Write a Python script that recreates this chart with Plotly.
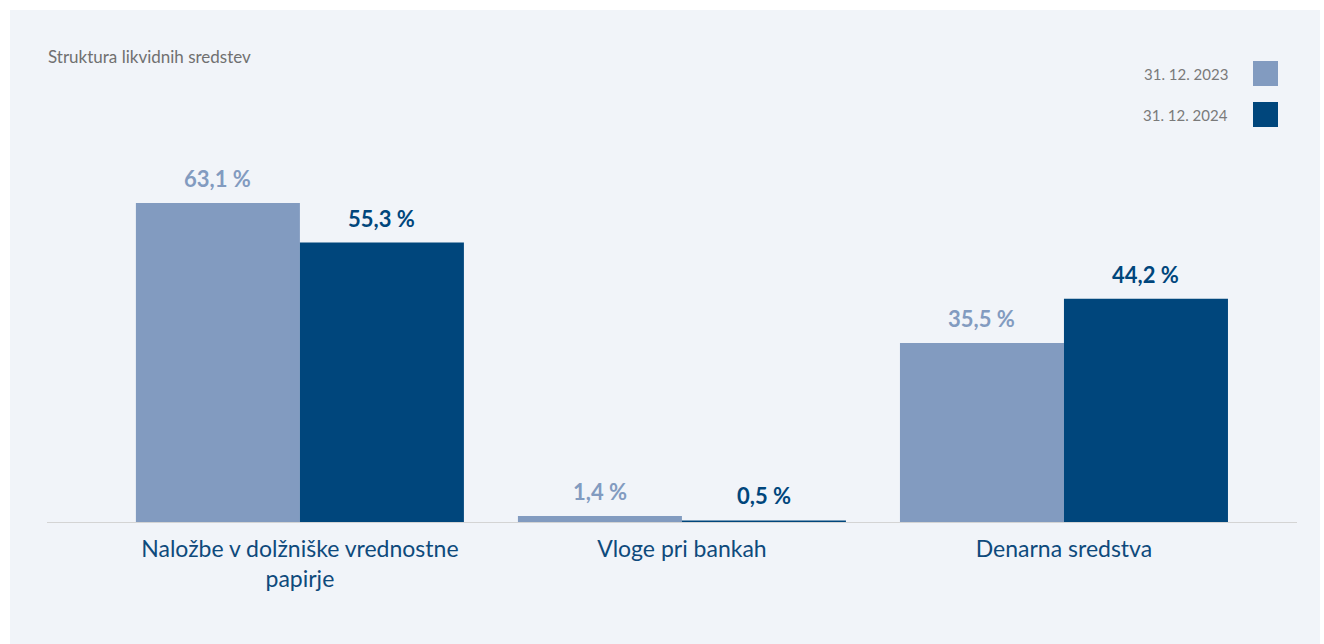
import plotly.graph_objects as go

categories = ["Naložbe v dolžniške vrednostne<br>papirje", "Vloge pri bankah", "Denarna sredstva"]
series_names = ["31. 12. 2023", "31. 12. 2024"]
values_2023 = [63.1, 1.4, 35.5]
values_2024 = [55.3, 0.5, 44.2]
title_text = "Struktura likvidnih sredstev"

W, H = 1324, 644
L, R, T, B = 47, 27, 130, 121
PW, PH = W - L - R, H - T - B
PX_PER_UNIT = 5.071
YMAX = PH / PX_PER_UNIT

def px_x(px):
    return (px - L) / PW

def px_y(py):
    return (H - B - py) / PH

LIGHT = "#829bc0"
DARK = "#00467c"
FONT = "Lato"

fig = go.Figure()
fig.add_trace(go.Bar(x=categories, y=values_2023, name=series_names[0], marker_color=LIGHT,
                     marker_line_width=0))
fig.add_trace(go.Bar(x=categories, y=values_2024, name=series_names[1], marker_color=DARK,
                     marker_line_width=0))

def fmt(v):
    return f"{v:.1f}".replace(".", ",") + " %"

annotations = []
for vals, color, shift in [(values_2023, LIGHT, -82), (values_2024, DARK, 82)]:
    for c, v in zip(categories, vals):
        annotations.append(dict(x=c, y=v, xref="x", yref="y", text=fmt(v), showarrow=False,
                                xshift=shift, yshift=9, yanchor="bottom", xanchor="center",
                                font=dict(family=FONT, size=22, color=color, weight="bold")))

annotations.append(dict(x=px_x(46), y=px_y(56), xref="paper", yref="paper", text=title_text,
                        showarrow=False, xanchor="left", yanchor="middle",
                        font=dict(family=FONT, size=17, color="#707070")))

shapes = [
    dict(type="rect", xref="paper", yref="paper", x0=px_x(10), x1=px_x(1320), y0=px_y(644), y1=px_y(10),
         fillcolor="#f1f4f9", line_width=0, layer="below"),
    dict(type="line", xref="paper", yref="y", x0=0, x1=1, y0=0, y1=0,
         line=dict(color="#d4d4d4", width=2), layer="above"),
]

for name, color, yc in [(series_names[0], LIGHT, 73.5), (series_names[1], DARK, 114.5)]:
    shapes.append(dict(type="rect", xref="paper", yref="paper", x0=px_x(1253), x1=px_x(1278),
                       y0=px_y(yc + 12.5), y1=px_y(yc - 12.5), fillcolor=color, line_width=0))
    annotations.append(dict(x=px_x(1230), y=px_y(yc), xref="paper", yref="paper", text=name,
                            showarrow=False, xanchor="right", yanchor="middle",
                            font=dict(family=FONT, size=15, color="#7a7a7a")))

fig.update_layout(
    width=W, height=H,
    margin=dict(l=L, r=R, t=T, b=B, pad=0),
    paper_bgcolor="white", plot_bgcolor="rgba(0,0,0,0)",
    barmode="group", bargap=0.1414, bargroupgap=0,
    showlegend=False,
    shapes=shapes, annotations=annotations,
    font=dict(family=FONT),
)
fig.update_xaxes(range=[-0.662, 2.61], showgrid=False, showline=False, zeroline=False, ticks="",
                 ticklabelstandoff=10,
                 tickfont=dict(family=FONT, size=23, color="#0e4a7c"), fixedrange=True)
fig.update_yaxes(range=[0, YMAX], visible=False, showgrid=False, zeroline=False, fixedrange=True)

fig.write_html("out.html")
